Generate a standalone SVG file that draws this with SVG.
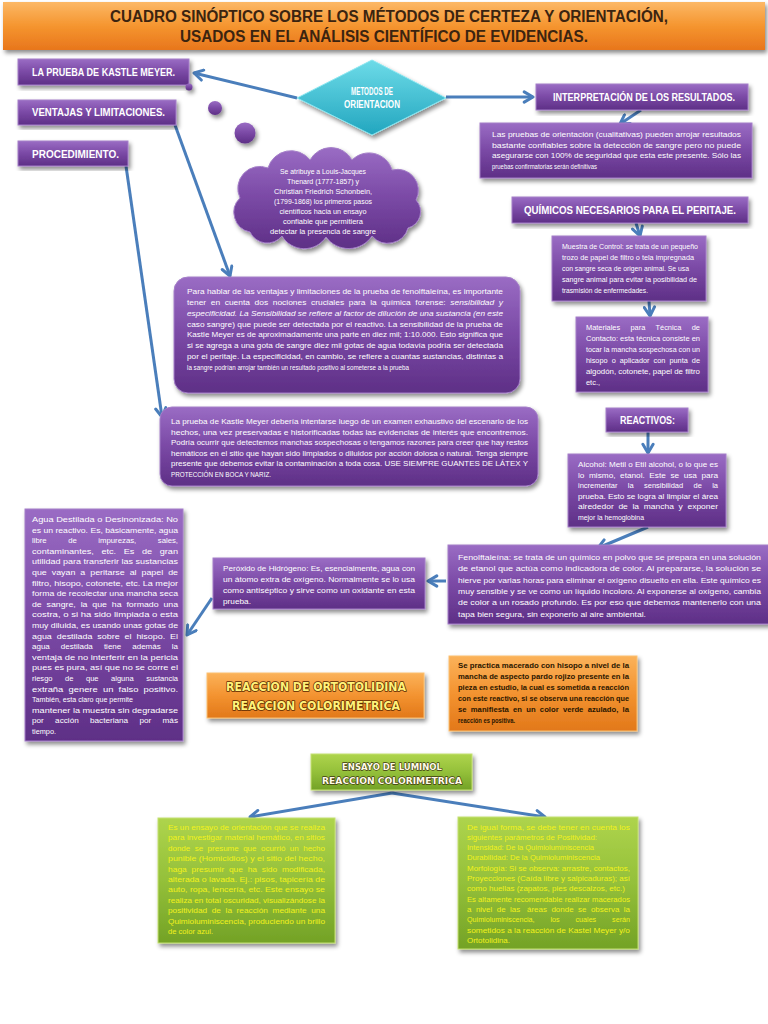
<svg xmlns="http://www.w3.org/2000/svg" width="768" height="1024" viewBox="0 0 768 1024">
<style>
.b{font-family:"Liberation Sans",Arial,sans-serif;font-size:7.2px;fill:#fff}
.m{font-size:8px}
.pre{white-space:pre}
.lab{font-family:"Liberation Sans",Arial,sans-serif;font-weight:bold;font-size:10px;fill:#fff}
.ttl{font-family:"Liberation Sans",Arial,sans-serif;font-weight:bold;font-size:16px;fill:#3b2410}
.dk{fill:#2a1600;font-weight:bold}
.yl{fill:#f2f21a}
.disp{font-family:"DejaVu Sans",sans-serif;font-weight:bold;font-size:12px;fill:#fff27a;stroke:#5a2800;stroke-width:1.6;paint-order:stroke;stroke-linejoin:round}
.disp2{font-family:"DejaVu Sans",sans-serif;font-weight:bold;font-size:9px;fill:#fffbe8;stroke:#3e3a10;stroke-width:1.3;paint-order:stroke;stroke-linejoin:round}
.pur{fill:url(#gp);stroke:#a47fc8;stroke-width:1;filter:url(#sh)}
.org{fill:url(#go);stroke:#fbc070;stroke-width:1;filter:url(#sh)}
.grn{fill:url(#gg);stroke:#c4e070;stroke-width:1;filter:url(#sh)}
.con{stroke:#4a7ebb;stroke-width:3;fill:none;marker-end:url(#ah)}
</style>
<defs>
<linearGradient id="gp" x1="0" y1="0" x2="0" y2="1"><stop offset="0" stop-color="#9a6cc4"/><stop offset="0.5" stop-color="#7a49a5"/><stop offset="1" stop-color="#5e2f86"/></linearGradient>
<linearGradient id="go" x1="0" y1="0" x2="0" y2="1"><stop offset="0" stop-color="#fbb25a"/><stop offset="0.5" stop-color="#f39330"/><stop offset="1" stop-color="#e2781a"/></linearGradient>
<linearGradient id="gt" x1="0" y1="0" x2="0" y2="1"><stop offset="0" stop-color="#fcb866"/><stop offset="0.5" stop-color="#f5952f"/><stop offset="1" stop-color="#e8761c"/></linearGradient>
<linearGradient id="gg" x1="0" y1="0" x2="0" y2="1"><stop offset="0" stop-color="#aed44c"/><stop offset="0.5" stop-color="#94c03a"/><stop offset="1" stop-color="#73a226"/></linearGradient>
<linearGradient id="gc" x1="0" y1="0" x2="0" y2="1"><stop offset="0" stop-color="#6ddbe8"/><stop offset="1" stop-color="#22a6bf"/></linearGradient>
<filter id="sh" x="-10%" y="-10%" width="125%" height="130%"><feDropShadow dx="2" dy="3" stdDeviation="2" flood-color="#000" flood-opacity="0.45"/></filter>
<marker id="ah" viewBox="0 0 10 10" refX="8" refY="5" markerWidth="4.5" markerHeight="4.5" orient="auto" markerUnits="strokeWidth"><path d="M1.5,1.2 L8,5 L1.5,8.8" fill="none" stroke="#4a7ebb" stroke-width="2.2" stroke-linecap="round" stroke-linejoin="round"/></marker>
</defs>
<rect width="768" height="1024" fill="#fff"/>

<g id="title">
<rect x="3" y="2" width="762" height="48" fill="url(#gt)" filter="url(#sh)"/>
<text class="ttl" x="389" y="22" text-anchor="middle" textLength="558" lengthAdjust="spacingAndGlyphs">CUADRO SINÓPTICO SOBRE LOS MÉTODOS DE CERTEZA Y ORIENTACIÓN,</text>
<text class="ttl" x="384" y="42" text-anchor="middle" textLength="408" lengthAdjust="spacingAndGlyphs">USADOS EN EL ANÁLISIS CIENTÍFICO DE EVIDENCIAS.</text>
</g>

<g id="connectors">
<line class="con" x1="297" y1="98" x2="194" y2="73"/>
<line class="con" x1="446" y1="97" x2="533" y2="97"/>
<line class="con" x1="641" y1="110" x2="620" y2="124"/>
<line class="con" x1="175" y1="125" x2="230" y2="276"/>
<line class="con" x1="126" y1="166" x2="162" y2="417"/>
<line class="con" x1="636" y1="223" x2="640" y2="236"/>
<line class="con" x1="649" y1="301" x2="650" y2="316"/>
<line class="con" x1="648" y1="432" x2="648" y2="453"/>
<line class="con" x1="648" y1="527" x2="598" y2="548"/>
<line class="con" x1="446" y1="581" x2="428" y2="581"/>
<line class="con" x1="212" y1="598" x2="187" y2="635"/>
<line class="con" x1="392" y1="793" x2="250" y2="817"/>
<line class="con" x1="392" y1="793" x2="545" y2="817"/>
</g>

<g id="n-kastle"><rect class="pur" x="18" y="59" width="171" height="26"/>
<text class="lab" x="32" y="76" textLength="143" lengthAdjust="spacingAndGlyphs">LA PRUEBA DE KASTLE MEYER.</text></g>
<g id="n-ventajas"><rect class="pur" x="18" y="100" width="158" height="25"/>
<text class="lab" x="32" y="116" textLength="133" lengthAdjust="spacingAndGlyphs">VENTAJAS Y LIMITACIONES.</text></g>
<g id="n-proc"><rect class="pur" x="18" y="141" width="110" height="25"/>
<text class="lab" x="32" y="158" textLength="87" lengthAdjust="spacingAndGlyphs">PROCEDIMIENTO.</text></g>

<g id="bubbles" fill="url(#gp)" filter="url(#sh)">
<circle cx="189" cy="87" r="3.5"/><circle cx="215" cy="108" r="7"/><circle cx="245" cy="133" r="10.5"/>
</g>

<g id="n-metodos">
<polygon points="297,98 372,60 446,98 372,135" fill="url(#gc)" stroke="#8ae6f0" stroke-width="1" filter="url(#sh)"/>
<text class="lab" x="372" y="95" text-anchor="middle" font-size="9" textLength="42" lengthAdjust="spacingAndGlyphs">METODOS DE</text>
<text class="lab" x="372" y="108" text-anchor="middle" font-size="9" textLength="56" lengthAdjust="spacingAndGlyphs">ORIENTACION</text>
</g>

<g id="n-cloud">
<path class="pur" d="M250,232 A20,20 0 0 1 240,198 A22,22 0 0 1 268,168 A24,24 0 0 1 310,160 A24,24 0 0 1 352,160 A24,24 0 0 1 392,170 A21,21 0 0 1 416,200 A17,17 0 0 1 408,228 A21,21 0 0 1 372,236 A28,28 0 0 1 326,237 A26,26 0 0 1 282,236 A19,19 0 0 1 250,232 Z"/>
<g class="b" text-anchor="middle">
<text x="323" y="174" textLength="86" lengthAdjust="spacingAndGlyphs">Se atribuye a Louis-Jacques</text>
<text x="323" y="184" textLength="72" lengthAdjust="spacingAndGlyphs">Thenard (1777-1857) y</text>
<text x="323" y="194" textLength="98" lengthAdjust="spacingAndGlyphs">Christian Friedrich Schonbein,</text>
<text x="323" y="204" textLength="98" lengthAdjust="spacingAndGlyphs">(1799-1868) los primeros pasos</text>
<text x="323" y="214" textLength="87" lengthAdjust="spacingAndGlyphs">científicos hacia un ensayo</text>
<text x="323" y="224" textLength="80" lengthAdjust="spacingAndGlyphs">confiable que permitiera</text>
<text x="323" y="234" textLength="106" lengthAdjust="spacingAndGlyphs">detectar la presencia de sangre</text>
</g></g>

<g id="n-interp"><rect class="pur" x="536" y="84" width="212" height="26"/>
<text class="lab" x="553" y="101" textLength="182" lengthAdjust="spacingAndGlyphs">INTERPRETACIÓN DE LOS RESULTADOS.</text></g>

<g id="n-interp-text"><rect class="pur" x="480" y="123" width="272" height="55"/>
<g class="b">
<text x="492" y="137" textLength="249" lengthAdjust="spacingAndGlyphs">Las pruebas de orientación (cualitativas) pueden arrojar resultados</text>
<text x="492" y="147.5" textLength="249" lengthAdjust="spacingAndGlyphs">bastante confiables sobre la detección de sangre pero no puede</text>
<text x="492" y="158" textLength="249" lengthAdjust="spacingAndGlyphs">asegurarse con 100% de seguridad que esta este presente. Sólo las</text>
<text x="492" y="168.5" textLength="105" lengthAdjust="spacingAndGlyphs">pruebas confirmatorias serán definitivas</text>
</g></g>

<g id="n-quimicos"><rect class="pur" x="512" y="197" width="236" height="26"/>
<text class="lab" x="524" y="214" textLength="212" lengthAdjust="spacingAndGlyphs">QUÍMICOS NECESARIOS PARA EL PERITAJE.</text></g>

<g id="n-muestra"><rect class="pur" x="552" y="236" width="154" height="65"/>
<g class="b m">
<text x="562" y="249" textLength="136" lengthAdjust="spacingAndGlyphs">Muestra de Control: se trata de un pequeño</text>
<text x="562" y="260" textLength="132" lengthAdjust="spacingAndGlyphs">trozo de papel de filtro o tela impregnada</text>
<text x="562" y="271" textLength="127" lengthAdjust="spacingAndGlyphs">con sangre seca de origen animal. Se usa</text>
<text x="562" y="282" textLength="135" lengthAdjust="spacingAndGlyphs">sangre animal para evitar la posibilidad de</text>
<text x="562" y="293" textLength="86" lengthAdjust="spacingAndGlyphs">trasmisión de enfermedades.</text>
</g></g>

<g id="n-materiales"><rect class="pur" x="576" y="317" width="132" height="75"/>
<g class="b m">
<text class="pre" x="586" y="330" textLength="114" lengthAdjust="spacingAndGlyphs">Materiales     para     Técnica     de</text>
<text x="586" y="341" textLength="114" lengthAdjust="spacingAndGlyphs">Contacto: esta técnica consiste en</text>
<text x="586" y="352" textLength="114" lengthAdjust="spacingAndGlyphs">tocar la mancha sospechosa con un</text>
<text class="pre" x="586" y="363" textLength="114" lengthAdjust="spacingAndGlyphs">hisopo  o  aplicador  con  punta  de</text>
<text x="586" y="374" textLength="114" lengthAdjust="spacingAndGlyphs">algodón, cotonete, papel de filtro</text>
<text x="586" y="385" textLength="14" lengthAdjust="spacingAndGlyphs">etc.,</text>
</g></g>

<g id="n-reactivos"><rect class="pur" x="606" y="408" width="82" height="24"/>
<text class="lab" x="620" y="424" textLength="55" lengthAdjust="spacingAndGlyphs">REACTIVOS:</text></g>

<g id="n-alcohol"><rect class="pur" x="568" y="454" width="158" height="73"/>
<g class="b m">
<text x="578" y="467" textLength="140" lengthAdjust="spacingAndGlyphs">Alcohol: Metil o Etil alcohol, o lo que es</text>
<text class="pre" x="578" y="477.5" textLength="140" lengthAdjust="spacingAndGlyphs">lo  mismo,  etanol.  Este  se  usa  para</text>
<text class="pre" x="578" y="488" textLength="140" lengthAdjust="spacingAndGlyphs">incrementar     la     sensibilidad     de     la</text>
<text x="578" y="498.5" textLength="140" lengthAdjust="spacingAndGlyphs">prueba. Esto se logra al limpiar el área</text>
<text class="pre" x="578" y="509" textLength="140" lengthAdjust="spacingAndGlyphs">alrededor  de  la  mancha  y  exponer</text>
<text x="578" y="519.5" textLength="66" lengthAdjust="spacingAndGlyphs">mejor la hemoglobina</text>
</g></g>

<g id="n-fenol"><rect class="pur" x="448" y="545" width="322" height="79"/>
<g class="b">
<text x="458" y="560" textLength="303" lengthAdjust="spacingAndGlyphs">Fenolftaleína: se trata de un químico en polvo que se prepara en una solución</text>
<text x="458" y="571.3" textLength="303" lengthAdjust="spacingAndGlyphs">de etanol que actúa como indicadora de color. Al prepararse, la solución se</text>
<text x="458" y="582.6" textLength="303" lengthAdjust="spacingAndGlyphs">hierve por varias horas para eliminar el oxígeno disuelto en ella. Este químico es</text>
<text x="458" y="593.9" textLength="303" lengthAdjust="spacingAndGlyphs">muy sensible y se ve como un líquido incoloro. Al exponerse al oxígeno, cambia</text>
<text x="458" y="605.2" textLength="303" lengthAdjust="spacingAndGlyphs">de color a un rosado profundo. Es por eso que debemos mantenerlo con una</text>
<text x="458" y="616.5" textLength="188" lengthAdjust="spacingAndGlyphs">tapa bien segura, sin exponerlo al aire ambiental.</text>
</g></g>

<g id="n-peroxido"><rect class="pur" x="213" y="558" width="212" height="51"/>
<g class="b">
<text x="223" y="571" textLength="192" lengthAdjust="spacingAndGlyphs">Peróxido de Hidrógeno: Es, esencialmente, agua con</text>
<text x="223" y="582" textLength="192" lengthAdjust="spacingAndGlyphs">un átomo extra de oxígeno. Normalmente se lo usa</text>
<text x="223" y="593" textLength="192" lengthAdjust="spacingAndGlyphs">como antiséptico y sirve como un oxidante en esta</text>
<text x="223" y="604" textLength="28" lengthAdjust="spacingAndGlyphs">prueba.</text>
</g></g>

<g id="n-agua"><rect class="pur" x="25" y="509" width="158" height="232"/>
<g class="b m">
<text x="32" y="522" textLength="146" lengthAdjust="spacingAndGlyphs">Agua Destilada o Desinonizada: No</text>
<text x="32" y="532.6" textLength="146" lengthAdjust="spacingAndGlyphs">es un reactivo. Es, básicamente, agua</text>
<text class="pre" x="32" y="543.2" textLength="146" lengthAdjust="spacingAndGlyphs">libre          de          impurezas,          sales,</text>
<text class="pre" x="32" y="553.8" textLength="146" lengthAdjust="spacingAndGlyphs">contaminantes,   etc.   Es   de   gran</text>
<text x="32" y="564.4" textLength="146" lengthAdjust="spacingAndGlyphs">utilidad para transferir las sustancias</text>
<text class="pre" x="32" y="575" textLength="146" lengthAdjust="spacingAndGlyphs">que  vayan  a  peritarse  al  papel  de</text>
<text x="32" y="585.6" textLength="146" lengthAdjust="spacingAndGlyphs">filtro, hisopo, cotonete, etc. La mejor</text>
<text x="32" y="596.2" textLength="146" lengthAdjust="spacingAndGlyphs">forma de recolectar una mancha seca</text>
<text class="pre" x="32" y="606.8" textLength="146" lengthAdjust="spacingAndGlyphs">de  sangre,  la  que  ha  formado  una</text>
<text x="32" y="617.4" textLength="146" lengthAdjust="spacingAndGlyphs">costra, o si ha sido limpiada o esta</text>
<text x="32" y="628" textLength="146" lengthAdjust="spacingAndGlyphs">muy diluida, es usando unas gotas de</text>
<text class="pre" x="32" y="638.6" textLength="146" lengthAdjust="spacingAndGlyphs">agua  destilada  sobre  el  hisopo.  El</text>
<text class="pre" x="32" y="649.2" textLength="146" lengthAdjust="spacingAndGlyphs">agua     destilada     tiene     además     la</text>
<text x="32" y="659.8" textLength="146" lengthAdjust="spacingAndGlyphs">ventaja de no interferir en la pericia</text>
<text x="32" y="670.4" textLength="146" lengthAdjust="spacingAndGlyphs">pues es pura, así que no se corre el</text>
<text class="pre" x="32" y="681" textLength="146" lengthAdjust="spacingAndGlyphs">riesgo      de      que      alguna      sustancia</text>
<text class="pre" x="32" y="691.6" textLength="146" lengthAdjust="spacingAndGlyphs">extraña  genere  un  falso  positivo.</text>
<text x="32" y="702.2" textLength="101" lengthAdjust="spacingAndGlyphs">También, esta claro que permite</text>
<text x="32" y="712.8" textLength="146" lengthAdjust="spacingAndGlyphs">mantener la muestra sin degradarse</text>
<text class="pre" x="32" y="723.4" textLength="146" lengthAdjust="spacingAndGlyphs">por     acción     bacteriana     por     más</text>
<text x="32" y="734" textLength="24" lengthAdjust="spacingAndGlyphs">tiempo.</text>
</g></g>

<g id="n-parahablar"><rect class="pur" x="174" y="277" width="346" height="116" rx="14"/>
<g class="b">
<text x="187" y="294" textLength="316" lengthAdjust="spacingAndGlyphs">Para hablar de las ventajas y limitaciones de la prueba de fenolftaleína, es importante</text>
<text class="pre" x="187" y="304.9" textLength="316" lengthAdjust="spacingAndGlyphs">tener  en  cuenta  dos  nociones  cruciales  para  la  química  forense:  <tspan font-style="italic">sensibilidad  y</tspan></text>
<text x="187" y="315.7" textLength="316" lengthAdjust="spacingAndGlyphs" font-style="italic">especificidad. La Sensibilidad se refiere al factor de dilución de una sustancia (en este</text>
<text x="187" y="326.6" textLength="316" lengthAdjust="spacingAndGlyphs">caso sangre) que puede ser detectada por el reactivo. La sensibilidad de la prueba de</text>
<text x="187" y="337.4" textLength="316" lengthAdjust="spacingAndGlyphs">Kastle Meyer es de aproximadamente una parte en diez mil; 1:10.000. Esto significa que</text>
<text x="187" y="348.3" textLength="316" lengthAdjust="spacingAndGlyphs">si se agrega a una gota de sangre diez mil gotas de agua todavía podría ser detectada</text>
<text x="187" y="359.1" textLength="316" lengthAdjust="spacingAndGlyphs">por el peritaje.  La especificidad, en cambio, se refiere a cuantas sustancias, distintas a</text>
<text x="187" y="370" textLength="222" lengthAdjust="spacingAndGlyphs">la sangre podrían arrojar también un resultado positivo al someterse a la prueba</text>
</g></g>

<g id="n-kastletext"><rect class="pur" x="160" y="407" width="378" height="79" rx="12"/>
<g class="b">
<text x="171" y="424" textLength="357" lengthAdjust="spacingAndGlyphs">La prueba de Kastle Meyer debería intentarse luego de un examen exhaustivo del escenario de los</text>
<text x="171" y="434.6" textLength="357" lengthAdjust="spacingAndGlyphs">hechos, una vez preservadas e historificadas todas las evidencias de interés que encontremos.</text>
<text x="171" y="445.2" textLength="357" lengthAdjust="spacingAndGlyphs">Podría ocurrir que detectemos manchas sospechosas o tengamos razones para creer que hay restos</text>
<text x="171" y="455.8" textLength="357" lengthAdjust="spacingAndGlyphs">hemáticos en el sitio que hayan sido limpiados o diluidos por acción dolosa o natural. Tenga siempre</text>
<text x="171" y="466.4" textLength="357" lengthAdjust="spacingAndGlyphs">presente que debemos evitar la contaminación a toda cosa. USE SIEMPRE GUANTES DE LÁTEX Y</text>
<text x="171" y="477" textLength="100" lengthAdjust="spacingAndGlyphs">PROTECCIÓN EN BOCA Y NARIZ.</text>
</g></g>

<g id="n-ortotolidina"><rect class="org" x="207" y="673" width="217" height="45"/>
<text class="disp" x="316" y="691" text-anchor="middle" textLength="180" lengthAdjust="spacingAndGlyphs">REACCION DE ORTOTOLIDINA</text>
<text class="disp" x="316" y="710" text-anchor="middle" textLength="168" lengthAdjust="spacingAndGlyphs">REACCION COLORIMETRICA</text>
</g>

<g id="n-ortotext"><rect class="org" x="449" y="656" width="188" height="75"/>
<g class="b dk">
<text x="458" y="668" textLength="171" lengthAdjust="spacingAndGlyphs">Se practica macerado con hisopo a nivel de la</text>
<text x="458" y="679" textLength="171" lengthAdjust="spacingAndGlyphs">mancha de aspecto pardo rojizo presente en la</text>
<text x="458" y="690" textLength="171" lengthAdjust="spacingAndGlyphs">pieza en estudio, la cual es sometida a reacción</text>
<text x="458" y="701" textLength="171" lengthAdjust="spacingAndGlyphs">con este reactivo, si se observa una reacción que</text>
<text class="pre" x="458" y="712" textLength="171" lengthAdjust="spacingAndGlyphs">se  manifiesta  en  un  color  verde  azulado,  la</text>
<text x="458" y="723" textLength="57" lengthAdjust="spacingAndGlyphs">reacción es positiva.</text>
</g></g>

<g id="n-luminol"><rect x="311" y="754" width="161" height="36" fill="url(#gg)" stroke="#c4e070" stroke-width="1" filter="url(#sh)"/>
<text class="disp2" x="392" y="770" text-anchor="middle" textLength="100" lengthAdjust="spacingAndGlyphs">ENSAYO DE LUMINOL</text>
<text class="disp2" x="392" y="783.5" text-anchor="middle" textLength="140" lengthAdjust="spacingAndGlyphs">REACCION COLORIMETRICA</text>
</g>

<g id="n-lumleft"><rect class="grn" x="158" y="818" width="177" height="125"/>
<g class="b yl">
<text x="168" y="830" textLength="157" lengthAdjust="spacingAndGlyphs">Es un ensayo de orientación que se realiza</text>
<text x="168" y="840.4" textLength="157" lengthAdjust="spacingAndGlyphs">para investigar material hemático, en sitios</text>
<text class="pre" x="168" y="850.8" textLength="157" lengthAdjust="spacingAndGlyphs">donde  se  presume  que  ocurrió  un  hecho</text>
<text x="168" y="861.2" textLength="157" lengthAdjust="spacingAndGlyphs">punible (Homicidios) y el sitio del hecho,</text>
<text class="pre" x="168" y="871.6" textLength="157" lengthAdjust="spacingAndGlyphs">haga  presumir  que  ha  sido  modificada,</text>
<text x="168" y="882" textLength="157" lengthAdjust="spacingAndGlyphs">alterada o lavada. Ej.: pisos, tapicería de</text>
<text x="168" y="892.4" textLength="157" lengthAdjust="spacingAndGlyphs">auto, ropa, lencería, etc. Este ensayo se</text>
<text x="168" y="902.8" textLength="157" lengthAdjust="spacingAndGlyphs">realiza en total oscuridad, visualizándose la</text>
<text class="pre" x="168" y="913.2" textLength="157" lengthAdjust="spacingAndGlyphs">positividad  de  la  reacción  mediante  una</text>
<text x="168" y="923.6" textLength="157" lengthAdjust="spacingAndGlyphs">Quimioluminiscencia, produciendo un brillo</text>
<text x="168" y="934" textLength="45" lengthAdjust="spacingAndGlyphs">de color azul.</text>
</g></g>

<g id="n-lumright"><rect class="grn" x="458" y="817" width="180" height="132"/>
<g class="b yl">
<text x="467" y="829.5" textLength="163" lengthAdjust="spacingAndGlyphs">De igual forma, se debe tener en cuenta los</text>
<text x="467" y="839.8" textLength="130" lengthAdjust="spacingAndGlyphs">siguientes parámetros de Positividad:</text>
<text x="467" y="850.1" textLength="127" lengthAdjust="spacingAndGlyphs">Intensidad: De la Quimioluminiscencia</text>
<text x="467" y="860.4" textLength="133" lengthAdjust="spacingAndGlyphs">Durabilidad: De la Quimioluminiscencia</text>
<text x="467" y="870.7" textLength="163" lengthAdjust="spacingAndGlyphs">Morfología: Si se observa: arrastre, contactos,</text>
<text x="467" y="881" textLength="163" lengthAdjust="spacingAndGlyphs">Proyecciones (Caída libre y salpicaduras); así</text>
<text x="467" y="891.3" textLength="158" lengthAdjust="spacingAndGlyphs">como huellas (zapatos, pies descalzos, etc.)</text>
<text x="467" y="901.6" textLength="163" lengthAdjust="spacingAndGlyphs">Es altamente recomendable realizar macerados</text>
<text class="pre" x="467" y="911.9" textLength="163" lengthAdjust="spacingAndGlyphs">a  nivel  de  las   áreas  donde  se  observa  la</text>
<text class="pre" x="467" y="922.2" textLength="163" lengthAdjust="spacingAndGlyphs">Quimioluminiscencia,        los        cuales        serán</text>
<text x="467" y="932.5" textLength="163" lengthAdjust="spacingAndGlyphs">sometidos a la reacción de Kastel Meyer  y/o</text>
<text x="467" y="942.8" textLength="43" lengthAdjust="spacingAndGlyphs">Ortotolidina.</text>
</g></g>
</svg>
